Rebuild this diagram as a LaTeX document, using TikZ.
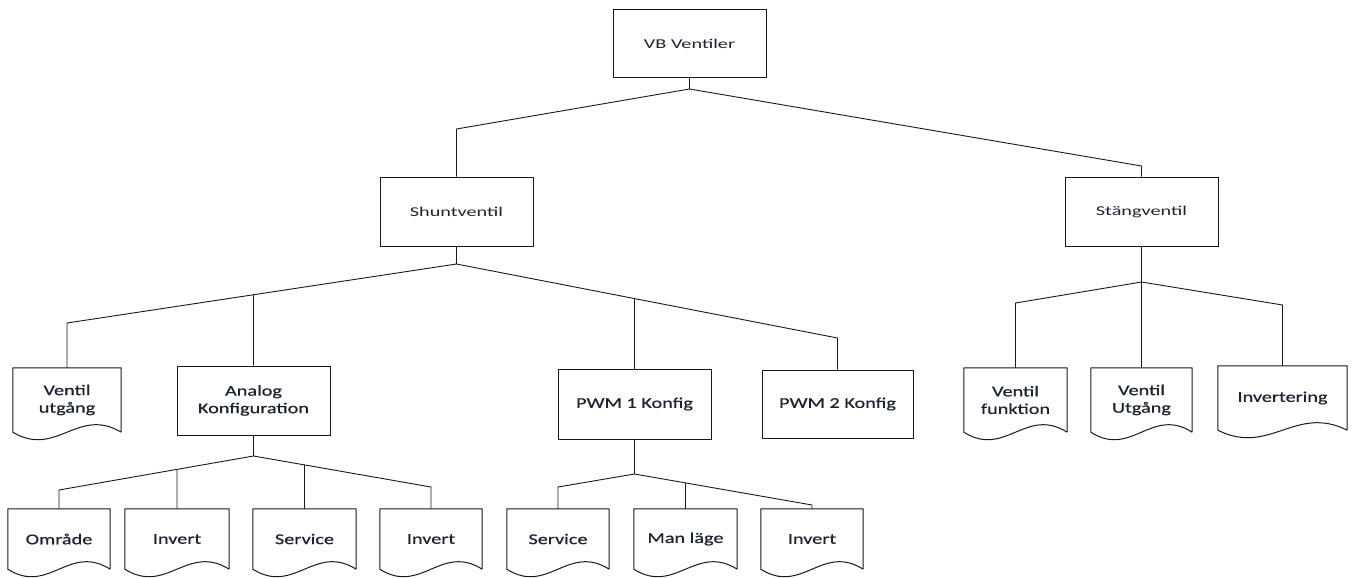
\documentclass[tikz,border=0pt]{standalone}
\usepackage{fontspec}
\usetikzlibrary{calc}
\newfontfamily\topfont[FakeStretch=1.5]{Carlito}
\newfontfamily\lowfont[FakeStretch=1.35,FakeBold=0.6]{Carlito}
\definecolor{inkc}{rgb}{0.12,0.13,0.2}
\definecolor{edgec}{rgb}{0.1,0.1,0.1}
\tikzset{
  box/.style={draw=edgec, line width=1pt, inner sep=0pt, align=center, text=inkc},
  topbox/.style={box, minimum width=153pt, minimum height=69pt, font=\topfont\fontsize{13.5}{17}\selectfont},
  midbox/.style={box, minimum width=153pt, minimum height=69pt, font=\lowfont\fontsize{15}{17.5}\selectfont},
  docbox/.style={inner sep=0pt, align=center, text=inkc, minimum height=64pt, font=\lowfont\fontsize{15}{17.5}\selectfont},
  link/.style={draw=edgec, line width=0.9pt},
  docline/.style={draw=edgec, line width=1pt, line join=round},
}
% document symbol: straight sides with a wavy bottom edge
\newcommand\docshape[1]{%
  \draw[docline] let \p1=(#1.south west), \p2=(#1.south east), \n1={\x2-\x1} in
    (#1.south east) -- (#1.north east) -- (#1.north west) -- (\p1)
    .. controls (\x1+0.4*\n1, \y1-26pt) and (\x2-0.4*\n1, \y2+26pt) .. (\p2);}
\begin{document}
\begin{tikzpicture}[x=1pt, y=-1pt]
\useasboundingbox (0,0) rectangle (1353,578);

% top level
\node[topbox, minimum height=68pt] (vb) at (689.5,44) {VB Ventiler};
\node[topbox] (shunt) at (456.5,211.5) {Shuntventil};
\node[topbox] (stang) at (1141.5,211.5) {Stängventil};

% second level under Shuntventil
\node[docbox, minimum width=108pt] (vu) at (67,400) {Ventil\\utgång};
\node[midbox] (analog) at (253.5,400.5) {Analog\\Konfiguration};
\node[midbox, minimum height=70pt] (pwm1) at (634.5,404) {PWM 1 Konfig};
\node[midbox, minimum width=151pt, minimum height=68pt] (pwm2) at (837.5,404) {PWM 2 Konfig};

% second level under Stängventil
\node[docbox, minimum width=103pt] (vf) at (1015.5,400) {Ventil\\funktion};
\node[docbox, minimum width=101pt] (vut) at (1141.5,400) {Ventil\\Utgång};
\node[docbox, minimum width=129pt] (inv) at (1282.5,398) {Invertering};

% third level
\node[docbox, minimum width=102pt, minimum height=60pt] (omr) at (59,539) {Område};
\node[docbox, minimum width=104pt, minimum height=60pt] (inva) at (177,539) {Invert};
\node[docbox, minimum width=103pt, minimum height=60pt] (serva) at (304.5,539) {Service};
\node[docbox, minimum width=102pt, minimum height=60pt] (invb) at (431,539) {Invert};
\node[docbox, minimum width=102pt, minimum height=60pt] (servb) at (558,539) {Service};
\node[docbox, minimum width=103pt, minimum height=60pt] (man) at (685.5,539) {Man läge};
\node[docbox, minimum width=102pt, minimum height=60pt] (invc) at (812,539) {Invert};

\foreach \d in {vu,vf,vut,inv,omr,inva,serva,invb,servb,man,invc} {\docshape{\d}}

% junctions and elbow levels
\coordinate (j0) at (689.5,89);
\coordinate (j1) at (456.5,264);
\coordinate (j2) at (253.5,456);
\coordinate (j3) at (634.5,474);
\coordinate (j4) at (1141.5,282);
\coordinate (ya) at (0,129);
\coordinate (yb) at (0,166);
\coordinate (yc) at (0,323);
\coordinate (yd) at (0,338);
\coordinate (ye) at (0,490);
\coordinate (yf) at (0,487);
\coordinate (yg) at (0,487);
\coordinate (yh) at (0,505);
\coordinate (yi) at (0,303);
\coordinate (yj) at (0,305);

% VB Ventiler
\draw[link] (vb.south) -- (j0);
\draw[link] (j0) -- (shunt.north |- ya) -- (shunt.north);
\draw[link] (j0) -- (stang.north |- yb) -- (stang.north);

% Shuntventil
\draw[link] (shunt.south) -- (j1);
\coordinate (kvu) at (vu.north |- yc);
\coordinate (kp2) at (pwm2.north |- yd);
\draw[link] (j1) -- (kvu) -- (vu.north);
\draw[link] (j1) -- (kp2) -- (pwm2.north);
\draw[link] (intersection of j1--kvu and analog.north--analog.south) -- (analog.north);
\draw[link] (intersection of j1--kp2 and pwm1.north--pwm1.south) -- (pwm1.north);

% Analog Konfiguration
\draw[link] (analog.south) -- (j2);
\coordinate (kom) at (omr.north |- ye);
\coordinate (kib) at (invb.north |- yf);
\draw[link] (j2) -- (kom) -- (omr.north);
\draw[link] (j2) -- (kib) -- (invb.north);
\draw[link] (intersection of j2--kom and inva.north--inva.south) -- (inva.north);
\draw[link] (intersection of j2--kib and serva.north--serva.south) -- (serva.north);

% PWM 1 Konfig
\draw[link] (pwm1.south) -- (j3);
\coordinate (ksb) at (servb.north |- yg);
\coordinate (kic) at (invc.north |- yh);
\draw[link] (j3) -- (ksb) -- (servb.north);
\draw[link] (j3) -- (kic) -- (invc.north);
\draw[link] (intersection of j3--kic and man.north--man.south) -- (man.north);

% Stängventil
\draw[link] (stang.south) -- (j4);
\draw[link] (j4) -- (vf.north |- yi) -- (vf.north);
\draw[link] (j4) -- (inv.north |- yj) -- (inv.north);
\draw[link] (j4) -- (vut.north);
\end{tikzpicture}
\end{document}
